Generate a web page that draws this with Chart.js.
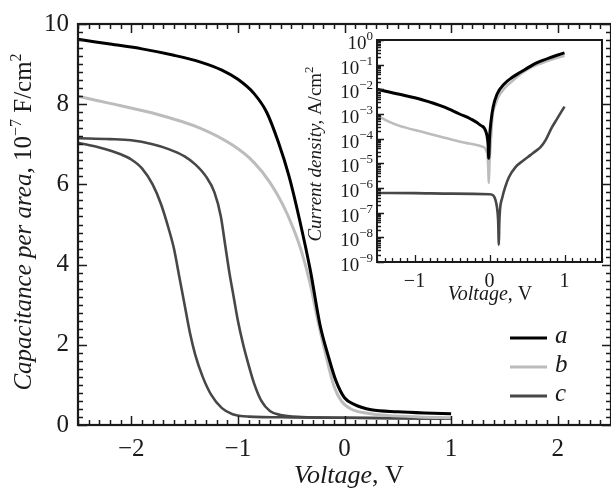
<!DOCTYPE html>
<html><head><meta charset="utf-8">
<script src="https://cdn.jsdelivr.net/npm/chart.js@4.4.1/dist/chart.umd.min.js"></script>
<style>
html,body{margin:0;padding:0;background:#fff;}
#wrap{position:relative;width:611px;height:491px;overflow:hidden;background:#fff;}
#main{position:absolute;left:0;top:0;}
#inset{position:absolute;left:290px;top:30px;}
</style></head><body>
<div id="wrap"><canvas id="main" width="611" height="491"></canvas><canvas id="inset" width="321" height="290"></canvas></div>
<script>
// ---------- Main C–V data ----------
const mainVoltA = [-2.5,-2.2,-1.9,-1.6,-1.35,-1.15,-1.0,-0.85,-0.73,-0.62,-0.52,-0.42,-0.32,-0.23,-0.15,-0.08,0.0,0.1,0.25,0.5,0.75,1.0];
const mainCapA  = [9.62,9.5,9.38,9.22,9.05,8.85,8.62,8.27,7.8,7.05,6.2,5.1,3.85,2.5,1.7,1.1,0.68,0.5,0.38,0.33,0.3,0.28];
const mainVoltB = [-2.5,-2.2,-1.8,-1.35,-1.05,-0.85,-0.7,-0.58,-0.48,-0.4,-0.32,-0.25,-0.18,-0.1,-0.03,0.06,0.2,0.4,0.7,1.0];
const mainCapB  = [8.2,8.02,7.78,7.4,6.98,6.55,6.05,5.5,4.9,4.3,3.5,2.6,1.8,0.98,0.6,0.4,0.3,0.24,0.2,0.18];
const mainVoltC1 = [-2.5,-2.3,-2.1,-2.0,-1.9,-1.8,-1.72,-1.65,-1.6,-1.55,-1.5,-1.45,-1.4,-1.33,-1.25,-1.15,-1.05,-0.9,-0.5,0,0.5,1.0];
const mainCapC1  = [7.04,6.92,6.75,6.62,6.4,6.0,5.5,4.9,4.4,3.7,3.0,2.3,1.75,1.2,0.75,0.42,0.27,0.21,0.19,0.18,0.17,0.16];
const mainVoltC2 = [-2.5,-2.2,-2.0,-1.8,-1.65,-1.5,-1.4,-1.3,-1.22,-1.16,-1.12,-1.08,-1.04,-1.0,-0.95,-0.9,-0.85,-0.78,-0.7,-0.6,-0.4,0,1.0];
const mainCapC2  = [7.15,7.13,7.1,7.0,6.88,6.7,6.5,6.2,5.8,5.2,4.5,3.8,3.2,2.6,2.0,1.5,1.05,0.6,0.35,0.25,0.2,0.18,0.16];
const mainXTicks = [-2,-1,0,1,2];
const mainYTicks = [0,2,4,6,8,10];
const seriesLabels = ['a','b','c'];

// ---------- Inset J–V data ----------
const insetVoltA = [-1.5,-1.2,-0.9,-0.6,-0.4,-0.25,-0.12,-0.05,-0.02,-0.01,0.0,0.02,0.05,0.1,0.2,0.3,0.4,0.5,0.6,0.7,0.8,0.9,1.0];
const insetCurA  = [1.0e-2,6.3e-3,3.8e-3,1.9e-3,1.0e-3,6.3e-4,3.5e-4,2.0e-4,6.3e-5,1.6e-5,1.0e-4,5.0e-4,2.0e-3,6.3e-3,1.7e-2,3.0e-2,4.7e-2,7.1e-2,0.107,0.145,0.19,0.24,0.30];
const insetVoltB = [-1.5,-1.35,-1.2,-0.9,-0.6,-0.3,-0.1,-0.03,-0.015,-0.01,0.0,0.02,0.04,0.08,0.12,0.2,0.3,0.43,0.55,0.7,0.85,1.0];
const insetCurB  = [8.9e-4,5.0e-4,3.3e-4,1.9e-4,1.1e-4,6.6e-5,4.8e-5,2.5e-5,5.0e-6,1.6e-6,1.0e-5,1.0e-4,7.9e-4,2.5e-3,5.0e-3,1.1e-2,2.1e-2,4.5e-2,7.6e-2,0.117,0.17,0.23];
const insetVoltC = [-1.5,-1.0,-0.5,0.0,0.05,0.08,0.1,0.115,0.125,0.13,0.14,0.17,0.21,0.26,0.35,0.45,0.55,0.62,0.68,0.75,0.83,0.9,1.0];
const insetCurC  = [6.3e-7,6.2e-7,5.9e-7,5.6e-7,5.0e-7,3.2e-7,1.6e-7,5.0e-8,5.0e-9,3.2e-8,1.3e-7,4.0e-7,1.1e-6,2.8e-6,7.2e-6,1.3e-5,2.2e-5,3.2e-5,4.5e-5,8.9e-5,2.8e-4,6.3e-4,2.0e-3];
const insetXTicks = [-1,0,1];
const insetYExponents = [0,-1,-2,-3,-4,-5,-6,-7,-8,-9];

const colA = '#000000', colB = '#bcbcbc', colC = '#474747';
const SERIF = '"Liberation Serif", "DejaVu Serif", serif';
const TXT = '#1a1a1a';

function pts(xs, ys){ return xs.map((x,i)=>({x:x, y:ys[i]})); }
function fmtMinus(v){ return v < 0 ? '\u2212' + Math.abs(v) : String(v); }

function richText(ctx, parts, cx, cy, angle){
  ctx.save();
  ctx.translate(cx, cy);
  ctx.rotate(angle);
  ctx.fillStyle = TXT;
  ctx.textAlign = 'left';
  ctx.textBaseline = 'alphabetic';
  let total = 0;
  parts.forEach(p => { ctx.font = p.f; p.w = ctx.measureText(p.t).width; total += p.w; });
  let x = -total/2;
  parts.forEach(p => { ctx.font = p.f; ctx.fillText(p.t, x, p.dy || 0); x += p.w; });
  ctx.restore();
}

const mainDecor = {
  id: 'mainDecor',
  afterDraw(chart){
    const ctx = chart.ctx, a = chart.chartArea;
    const xs = chart.scales.x, ys = chart.scales.y;
    ctx.save();
    ctx.strokeStyle = '#1a1a1a';
    // ticks
    ctx.lineWidth = 1.5;
    ctx.beginPath();
    for (let i = -25; i <= 25; i++){
      const v = i/10, px = Math.round(xs.getPixelForValue(v)) + 0.5;
      const len = (i % 10 === 0) ? 9 : 5;
      ctx.moveTo(px, a.bottom); ctx.lineTo(px, a.bottom - len);
      ctx.moveTo(px, a.top); ctx.lineTo(px, a.top + len);
    }
    for (let i = 0; i <= 50; i++){
      const v = i/5, py = Math.round(ys.getPixelForValue(v)) + 0.5;
      const len = (i % 10 === 0) ? 9 : 5;
      ctx.moveTo(a.left, py); ctx.lineTo(a.left + len, py);
      ctx.moveTo(a.right, py); ctx.lineTo(a.right - len, py);
    }
    ctx.stroke();
    // frame
    ctx.lineWidth = 2.2;
    ctx.strokeRect(a.left, a.top, a.right - a.left, a.bottom - a.top);
    ctx.restore();

    // axis titles
    richText(ctx, [
      {t:'Capacitance per area,', f:'italic 25px ' + SERIF},
      {t:' 10', f:'25px ' + SERIF},
      {t:'\u22127', f:'16px ' + SERIF, dy:-10},
      {t:' F/cm', f:'25px ' + SERIF},
      {t:'2', f:'16px ' + SERIF, dy:-10}
    ], 31, 222, -Math.PI/2);
    richText(ctx, [
      {t:'Voltage', f:'italic 26px ' + SERIF},
      {t:', V', f:'26px ' + SERIF}
    ], 349, 483, 0);

    // legend
    const ds = chart.data.datasets.filter(d => d.label);
    const ly = [338, 367, 396];
    ctx.save();
    ds.forEach((d, i) => {
      ctx.strokeStyle = d.borderColor; ctx.lineWidth = 3;
      ctx.beginPath(); ctx.moveTo(510, ly[i]); ctx.lineTo(547, ly[i]); ctx.stroke();
      ctx.fillStyle = TXT; ctx.font = 'italic 25px ' + SERIF;
      ctx.textAlign = 'left'; ctx.textBaseline = 'middle';
      ctx.fillText(d.label, 555, ly[i] - 2);
    });
    ctx.restore();
  }
};

const insetDecor = {
  id: 'insetDecor',
  afterDraw(chart){
    const ctx = chart.ctx, a = chart.chartArea;
    const xs = chart.scales.x, ys = chart.scales.y;
    ctx.save();
    ctx.strokeStyle = '#1a1a1a';
    ctx.lineWidth = 1.3;
    ctx.beginPath();
    for (let i = -15; i <= 15; i++){
      const px = Math.round(xs.getPixelForValue(i/10)) + 0.5;
      const len = (i % 10 === 0) ? 7 : 4;
      ctx.moveTo(px, a.bottom); ctx.lineTo(px, a.bottom - len);
    }
    insetYExponents.forEach(k => {
      const py = Math.round(ys.getPixelForValue(Math.pow(10, k))) + 0.5;
      ctx.moveTo(a.left, py); ctx.lineTo(a.left + 7, py);
      if (k < 0) {
        for (let m = 2; m <= 9; m++){
          const q = Math.round(ys.getPixelForValue(m * Math.pow(10, k))) + 0.5;
          ctx.moveTo(a.left, q); ctx.lineTo(a.left + 4, q);
        }
      }
    });
    ctx.stroke();
    ctx.lineWidth = 2;
    ctx.strokeRect(a.left, a.top, a.right - a.left, a.bottom - a.top);
    ctx.restore();

    // y tick labels 10^k
    ctx.save();
    ctx.fillStyle = TXT;
    ctx.textBaseline = 'alphabetic';
    ctx.textAlign = 'left';
    insetYExponents.forEach(k => {
      const py = ys.getPixelForValue(Math.pow(10, k));
      const exp = k === 0 ? '0' : '\u2212' + Math.abs(k);
      ctx.font = '13px ' + SERIF; const we = ctx.measureText(exp).width;
      ctx.font = '19px ' + SERIF; const wb = ctx.measureText('10').width;
      const right = a.left - 4;
      ctx.fillText('10', right - we - wb, py + 9);
      ctx.font = '13px ' + SERIF;
      ctx.fillText(exp, right - we, py);
    });
    ctx.restore();

    richText(ctx, [
      {t:'Current density,', f:'italic 19px ' + SERIF},
      {t:' A/cm', f:'19px ' + SERIF},
      {t:'2', f:'13px ' + SERIF, dy:-8}
    ], 31, 124, -Math.PI/2);
    richText(ctx, [
      {t:'Voltage', f:'italic 20px ' + SERIF},
      {t:', V', f:'20px ' + SERIF}
    ], 200, 270, 0);
  }
};

const mainChart = new Chart(document.getElementById('main'), {
  type: 'line',
  data: {
    datasets: [
      {label: seriesLabels[0], data: pts(mainVoltA, mainCapA), borderColor: colA, borderWidth: 3},
      {label: seriesLabels[1], data: pts(mainVoltB, mainCapB), borderColor: colB, borderWidth: 3},
      {label: seriesLabels[2], data: pts(mainVoltC1, mainCapC1), borderColor: colC, borderWidth: 2.6},
      {label: '', data: pts(mainVoltC2, mainCapC2), borderColor: colC, borderWidth: 2.6}
    ]
  },
  options: {
    responsive: false, animation: false, devicePixelRatio: 1,
    parsing: true,
    elements: {point: {radius: 0}, line: {cubicInterpolationMode: 'monotone', fill: false}},
    layout: {padding: {top: 21, right: 0, left: 0, bottom: 0}},
    plugins: {legend: {display: false}, tooltip: {enabled: false}},
    scales: {
      x: {
        type: 'linear', min: -2.5, max: 2.5,
        grid: {display: false, drawTicks: false}, border: {display: false},
        afterBuildTicks: s => { s.ticks = mainXTicks.map(v => ({value: v})); },
        afterFit: s => { s.height = 66; },
        ticks: {font: {family: SERIF, size: 25}, color: TXT, padding: 9, maxRotation: 0, callback: v => fmtMinus(v)}
      },
      y: {
        type: 'linear', min: 0, max: 10,
        grid: {display: false, drawTicks: false}, border: {display: false},
        afterBuildTicks: s => { s.ticks = mainYTicks.map(v => ({value: v})); },
        afterFit: s => { s.width = 78; },
        ticks: {font: {family: SERIF, size: 25}, color: TXT, padding: 9}
      }
    }
  },
  plugins: [mainDecor]
});

const insetChart = new Chart(document.getElementById('inset'), {
  type: 'line',
  data: {
    datasets: [
      {label: seriesLabels[0], data: pts(insetVoltA, insetCurA), borderColor: colA, borderWidth: 3},
      {label: seriesLabels[1], data: pts(insetVoltB, insetCurB), borderColor: colB, borderWidth: 2.6},
      {label: seriesLabels[2], data: pts(insetVoltC, insetCurC), borderColor: colC, borderWidth: 2.6}
    ]
  },
  options: {
    responsive: false, animation: false, devicePixelRatio: 1,
    elements: {point: {radius: 0}, line: {cubicInterpolationMode: 'monotone', fill: false}},
    layout: {padding: {top: 10, right: 9, left: 0, bottom: 0}},
    plugins: {legend: {display: false}, tooltip: {enabled: false}},
    scales: {
      x: {
        type: 'linear', min: -1.5, max: 1.5,
        grid: {display: false, drawTicks: false}, border: {display: false},
        afterBuildTicks: s => { s.ticks = insetXTicks.map(v => ({value: v})); },
        afterFit: s => { s.height = 58; },
        ticks: {font: {family: SERIF, size: 20}, color: TXT, padding: 8, maxRotation: 0, callback: v => fmtMinus(v)}
      },
      y: {
        type: 'logarithmic', min: 1e-9, max: 1,
        grid: {display: false, drawTicks: false}, border: {display: false},
        afterFit: s => { s.width = 87; },
        ticks: {display: false}
      }
    }
  },
  plugins: [insetDecor]
});
</script>
</body></html>
